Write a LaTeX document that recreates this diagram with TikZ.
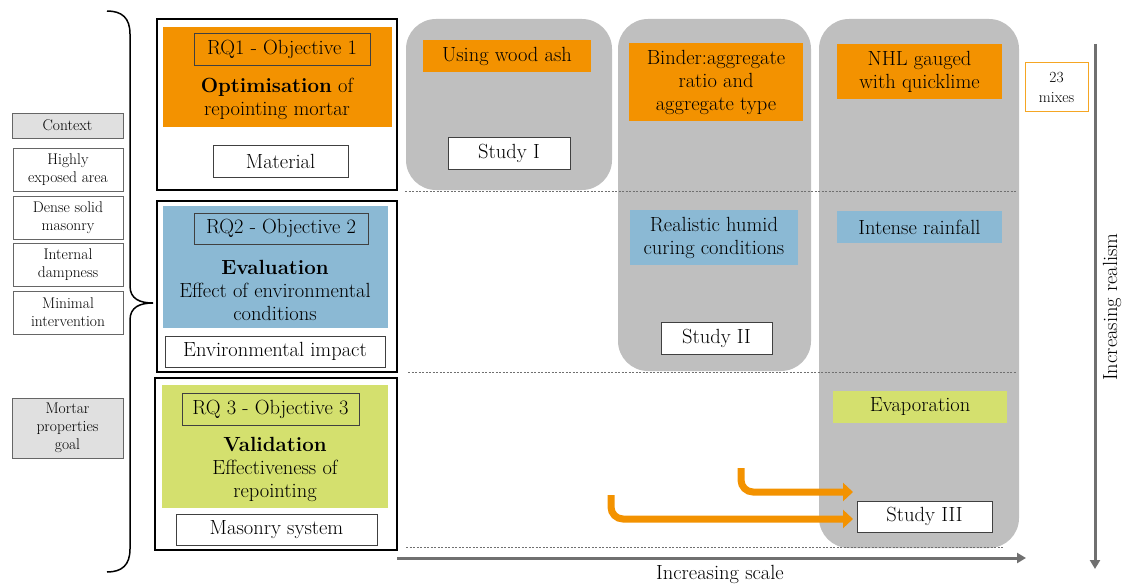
\documentclass[tikz,border=0pt]{standalone}
\usetikzlibrary{arrows.meta}
\definecolor{orng}{RGB}{243,146,0}
\definecolor{blu}{RGB}{139,185,212}
\definecolor{grn}{RGB}{212,224,110}
\definecolor{panel}{RGB}{191,191,191}
\definecolor{ctxgray}{RGB}{224,224,224}
\definecolor{edge}{RGB}{64,64,64}
\definecolor{axis}{RGB}{112,112,112}
\definecolor{mixedge}{RGB}{245,166,35}
\begin{document}
\begin{tikzpicture}[x=1pt,y=-1pt,
  big/.style={font=\fontsize{20.5}{23}\selectfont},
  small/.style={font=\fontsize{15.5}{18}\selectfont},
  rect/.style={rectangle, inner sep=0pt, outer sep=0pt, align=center},
  sidebox/.style={rect, small, draw=edge!80, line width=1pt, fill=white},
  goalbox/.style={sidebox, fill=ctxgray},
  rqframe/.style={rect, draw=black, line width=1.2pt, fill=white},
  rqlabel/.style={rect, big, draw=edge, line width=0.9pt},
  whitebox/.style={rect, big, draw=edge, line width=1pt, fill=white},
  colourbox/.style={rect, big},
  panelbox/.style={rect, fill=panel, rounded corners=30pt},
  sep/.style={axis, line width=0.7pt, dash pattern=on 2pt off 1.5pt},
  axisarrow/.style={axis, line width=3pt, -{Triangle[length=9pt,width=10pt]}},
  feed/.style={orng, line width=7pt, rounded corners=12pt, -{Triangle[length=10pt,width=18pt]}}
]
\useasboundingbox (0,0) rectangle (1123,586);

% study panels
\node[panelbox, minimum width=206, minimum height=171] (p1) at (509,104.5) {};
\node[panelbox, minimum width=193, minimum height=352] (p2) at (714.5,195) {};
\node[panelbox, minimum width=200, minimum height=529] (p3) at (919,283.5) {};

% row separators
\coordinate (d1a) at (405,191); \coordinate (d1b) at (1017,191);
\coordinate (d2a) at (408,372); \coordinate (d2b) at (1017,372);
\coordinate (d3a) at (406,547); \coordinate (d3b) at (1004,547);
\draw[sep] (d1a) -- (d1b);
\draw[sep] (d2a) -- (d2b);
\draw[sep] (d3a) -- (d3b);

% context column
\node[goalbox, minimum width=111, minimum height=25] (ctx) at (67.5,125.5) {Context};
\node[sidebox, minimum width=110, minimum height=43] (hea) at (68,169.5) {Highly\\exposed area};
\node[sidebox, minimum width=110, minimum height=43] (dsm) at (68,217.5) {Dense solid\\masonry};
\node[sidebox, minimum width=110, minimum height=43] (idp) at (68,264.5) {Internal\\dampness};
\node[sidebox, minimum width=110, minimum height=43] (mni) at (68,312.5) {Minimal\\intervention};
\node[goalbox, minimum width=111, minimum height=60] (mpg) at (67.5,428) {Mortar\\properties\\goal};

% brace
\coordinate (bt) at (107,11);
\coordinate (bb) at (107,572);
\coordinate (btip) at (153,303);
\draw[line width=1.5pt] (bt) .. controls (122,11) and (130,18) .. (130,34)
  -- (130,286) .. controls (130,299) and (140,303) .. (btip)
  .. controls (140,303) and (130,307) .. (130,320)
  -- (130,549) .. controls (130,565) and (122,572) .. (bb);

% research question frames
\node[rqframe, minimum width=240, minimum height=171] (o1) at (277,104.5) {};
\node[rqframe, minimum width=240, minimum height=171] (o2) at (277,286.5) {};
\node[rqframe, minimum width=242, minimum height=172] (o3) at (276,464) {};

\node[rect, fill=orng, minimum width=229, minimum height=100] (f1) at (277.5,77) {};
\node[rect, fill=blu, minimum width=225, minimum height=122] (f2) at (275.5,267) {};
\node[rect, fill=grn, minimum width=226, minimum height=123] (f3) at (275,446.5) {};

\node[rqlabel, minimum width=176, minimum height=32] (q1) at (282,49) {RQ1 - Objective 1};
\node[rqlabel, minimum width=174, minimum height=31] (q2) at (281,228.5) {RQ2 - Objective 2};
\node[rqlabel, minimum width=177, minimum height=32] (q3) at (270.5,409) {RQ 3 - Objective 3};

\node[rect, big] (t1) at (277,99) {\textbf{Optimisation} of\\repointing mortar};
\node[rect, big] (t2) at (275,290) {\textbf{Evaluation}\\Effect of environmental\\conditions};
\node[rect, big] (t3) at (275,469) {\textbf{Validation}\\Effectiveness of\\repointing};

\node[whitebox, minimum width=135, minimum height=32] (mat) at (280.5,161) {Material};
\node[whitebox, minimum width=220, minimum height=31] (env) at (275,351.5) {Environmental impact};
\node[whitebox, minimum width=201, minimum height=31] (mas) at (276.5,529.5) {Masonry system};

% study contents
\node[colourbox, fill=orng, minimum width=168, minimum height=32] (wa) at (507,56) {Using wood ash};
\node[colourbox, fill=orng, minimum width=174, minimum height=78] (bnd) at (716,82) {Binder:aggregate\\ratio and\\aggregate type};
\node[colourbox, fill=orng, minimum width=165, minimum height=55] (nhl) at (919.5,71.5) {NHL gauged\\with quicklime};
\node[colourbox, fill=blu, minimum width=168, minimum height=55] (hum) at (714,237.5) {Realistic humid\\curing conditions};
\node[colourbox, fill=blu, minimum width=165, minimum height=32] (rain) at (919.5,227) {Intense rainfall};
\node[colourbox, fill=grn, minimum width=174, minimum height=32] (evap) at (920,407) {Evaporation};

\node[whitebox, minimum width=122, minimum height=32] (s1) at (509,153) {Study I};
\node[whitebox, minimum width=111, minimum height=32] (s2) at (716.5,338) {Study II};
\node[whitebox, minimum width=135, minimum height=31] (s3) at (924.5,516.5) {Study III};

\node[rect, font=\fontsize{15.5}{20}\selectfont, draw=mixedge, line width=1pt, fill=white, minimum width=63, minimum height=49] (mix) at (1056.5,87) {23\\mixes};

% carry-over arrows into study III
\coordinate (a1s) at (741,468);
\coordinate (a1e) at (853,492);
\coordinate (a2s) at (611,495);
\coordinate (a2e) at (853,519);
\draw[feed] (a1s) -- (741,492) -- (a1e);
\draw[feed] (a2s) -- (611,519) -- (a2e);

% axes
\coordinate (hx0) at (397,558);
\coordinate (hx1) at (1026,558);
\coordinate (vy0) at (1095,44);
\coordinate (vy1) at (1095,569);
\draw[axisarrow] (hx0) -- (hx1);
\draw[axisarrow] (vy0) -- (vy1);
\node[rect, big] (sc) at (720,574) {Increasing scale};
\node[rect, big, rotate=90] (re) at (1112,307) {Increasing realism};
\end{tikzpicture}
\end{document}
